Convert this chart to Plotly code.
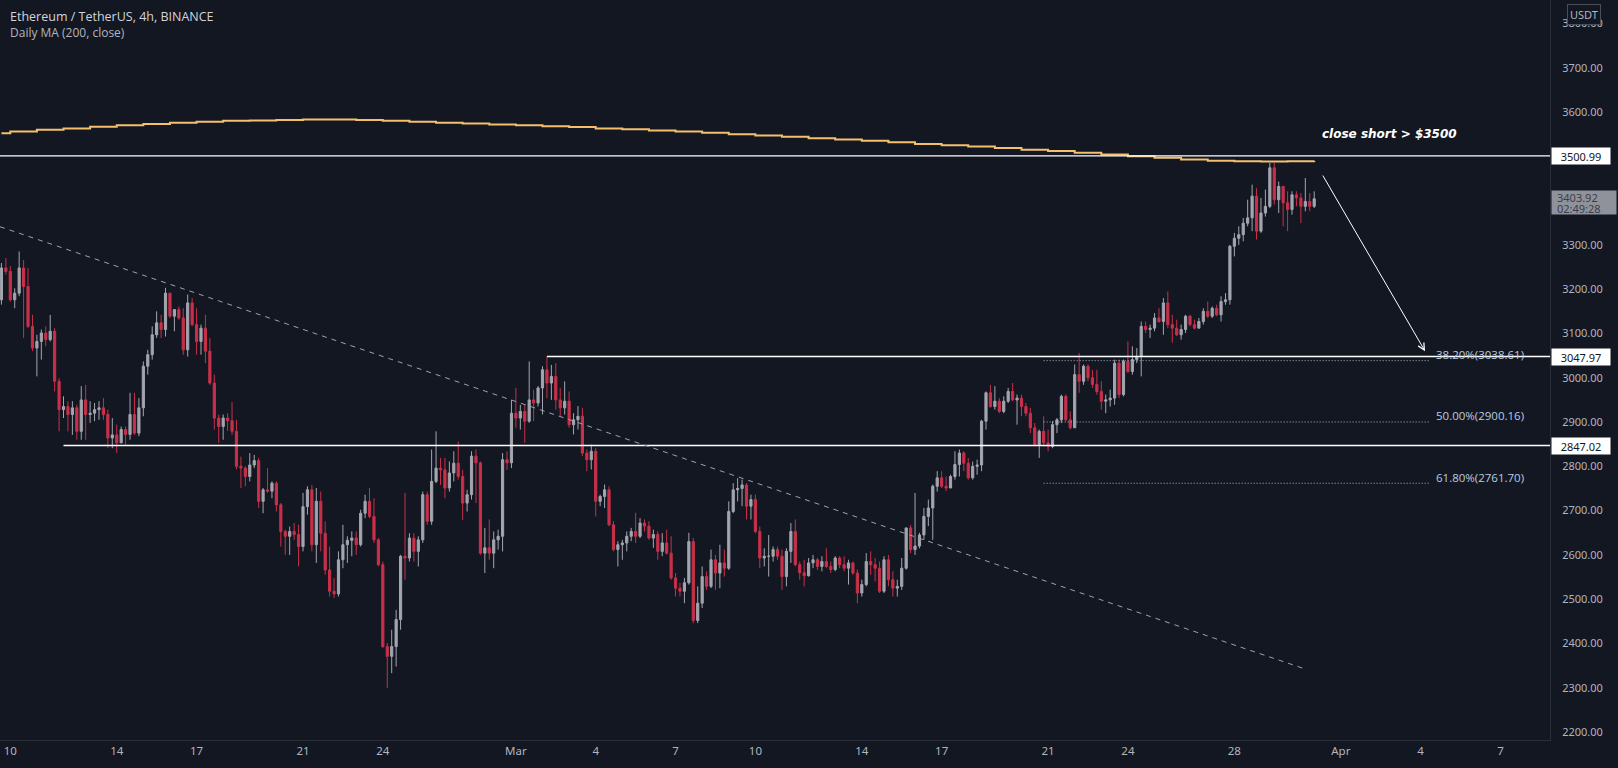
import pandas as pd
import plotly.graph_objects as go

# ---------------- data ----------------
first_open = 3176
closes = [
    3248, 3240,
    3176, 3191, 3248, 3206, 3116, 3067,
    3082, 3101, 3086, 3105, 2992, 2928,
    2935, 2917, 2932, 2879, 2950, 2917,
    2920, 2928, 2932, 2917, 2864, 2871,
    2853, 2883, 2872, 2917, 2875, 2932,
    3026, 3052, 3097, 3124, 3109, 3191,
    3139, 3154, 3135, 3063, 3169, 3120,
    3082, 3112, 3060, 2988, 2909, 2890,
    2909, 2903, 2879, 2800, 2796, 2777,
    2803, 2813, 2721, 2747, 2744, 2762,
    2713, 2653, 2642, 2653, 2646, 2619,
    2709, 2747, 2623, 2721, 2649, 2566,
    2518, 2512, 2589, 2623, 2633, 2638,
    2623, 2694, 2721, 2687, 2634, 2578,
    2393, 2371, 2393, 2454, 2597, 2593,
    2638, 2608, 2634, 2736, 2676, 2766,
    2796, 2792, 2751, 2785, 2807, 2777,
    2717, 2736, 2823, 2808, 2604, 2616,
    2604, 2634, 2642, 2815, 2808, 2920,
    2909, 2924, 2902, 2950, 2943, 2977,
    3018, 2988, 3003, 2950, 2932, 2947,
    2894, 2905, 2913, 2830, 2815, 2834,
    2721, 2732, 2747, 2668, 2612, 2623,
    2627, 2642, 2653, 2642, 2672, 2665,
    2638, 2646, 2608, 2627, 2604, 2548,
    2525, 2518, 2537, 2630, 2452, 2491,
    2551, 2529, 2589, 2559, 2582, 2570,
    2698, 2747, 2750, 2758, 2710, 2725,
    2653, 2593, 2597, 2597, 2612, 2597,
    2551, 2608, 2653, 2578, 2560, 2553,
    2582, 2589, 2574, 2585, 2574, 2567,
    2593, 2578, 2570, 2582, 2559, 2514,
    2533, 2585, 2578, 2570, 2518, 2589,
    2544, 2525, 2529, 2570, 2661, 2612,
    2620, 2645, 2687, 2706, 2755, 2774,
    2755, 2751, 2777, 2804, 2830, 2807,
    2774, 2800, 2803, 2902, 2966, 2935,
    2947, 2924, 2947, 2969, 2950, 2954,
    2935, 2920, 2887, 2849, 2879, 2853,
    2845, 2894, 2905, 2958, 2905, 2887,
    3007, 2992, 3026, 3000, 2985, 2969,
    2947, 2950, 2954, 3033, 2962, 3037,
    3014, 3041, 3048, 3116, 3109, 3112,
    3135, 3127, 3169, 3120, 3112, 3097,
    3109, 3139, 3120, 3112, 3127, 3150,
    3139, 3157, 3142, 3172, 3176, 3297,
    3315, 3323, 3349, 3361, 3410, 3331,
    3372, 3387, 3474, 3402, 3432, 3395,
    3380, 3413, 3406, 3387, 3398, 3387,
    3403.92,
]
highs = [
    3259, 3270,
    3252, 3202, 3285, 3266, 3248, 3142,
    3097, 3109, 3116, 3142, 3112, 2999,
    2958, 2947, 2947, 2939, 2981, 2984,
    2947, 2943, 2947, 2954, 2928, 2909,
    2894, 2890, 2890, 2966, 2966, 2954,
    3037, 3063, 3116, 3150, 3142, 3203,
    3188, 3154, 3161, 3157, 3188, 3180,
    3157, 3120, 3142, 3090, 3007, 2917,
    2917, 2920, 2945, 2905, 2822, 2800,
    2830, 2826, 2819, 2751, 2796, 2766,
    2766, 2717, 2657, 2664, 2672, 2668,
    2740, 2755, 2758, 2751, 2743, 2676,
    2619, 2548, 2608, 2668, 2642, 2653,
    2653, 2702, 2736, 2751, 2728, 2638,
    2585, 2401, 2431, 2476, 2600, 2740,
    2649, 2649, 2642, 2743, 2743, 2838,
    2879, 2819, 2819, 2811, 2834, 2856,
    2792, 2747, 2834, 2838, 2811, 2661,
    2680, 2653, 2657, 2830, 2834, 2950,
    2977, 2939, 2939, 3037, 2973, 2981,
    3026, 3048, 3029, 3033, 2977, 2992,
    2969, 2920, 2936, 2932, 2838, 2849,
    2841, 2736, 2759, 2755, 2676, 2631,
    2634, 2653, 2661, 2695, 2683, 2680,
    2676, 2657, 2653, 2649, 2657, 2642,
    2559, 2537, 2548, 2650, 2638, 2529,
    2574, 2563, 2612, 2600, 2623, 2612,
    2721, 2762, 2773, 2770, 2762, 2736,
    2736, 2664, 2615, 2645, 2619, 2619,
    2612, 2615, 2672, 2680, 2585, 2589,
    2593, 2600, 2593, 2597, 2615, 2585,
    2597, 2597, 2597, 2589, 2585, 2567,
    2544, 2604, 2608, 2593, 2585, 2597,
    2600, 2563, 2544, 2593, 2661, 2668,
    2740, 2650, 2706, 2725, 2759, 2789,
    2789, 2777, 2781, 2834, 2838, 2834,
    2819, 2811, 2815, 2905, 2969, 2984,
    2981, 2954, 2958, 2977, 2988, 2962,
    2962, 2943, 2932, 2898, 2883, 2913,
    2883, 2902, 2909, 2962, 2962, 2924,
    3030, 3056, 3030, 3030, 3018, 3018,
    2992, 2962, 2973, 3041, 3041, 3041,
    3082, 3071, 3067, 3127, 3127, 3120,
    3146, 3157, 3180, 3195, 3142, 3131,
    3120, 3142, 3142, 3131, 3135, 3157,
    3172, 3161, 3165, 3184, 3191, 3300,
    3327, 3342, 3361, 3402, 3436, 3428,
    3406, 3425, 3485, 3485, 3443, 3432,
    3421, 3421, 3421, 3417, 3451, 3417,
    3421,
]
lows = [
    3165, 3233,
    3172, 3157, 3184, 3090, 3112, 3060,
    3003, 3041, 3071, 3082, 2969, 2879,
    2909, 2879, 2871, 2860, 2860, 2860,
    2898, 2902, 2905, 2905, 2841, 2841,
    2830, 2864, 2849, 2860, 2871, 2868,
    2913, 3007, 3041, 3090, 3090, 3093,
    3135, 3105, 3131, 3052, 3048, 3116,
    3052, 3052, 3033, 2984, 2883, 2853,
    2860, 2880, 2871, 2793, 2751, 2755,
    2766, 2796, 2706, 2694, 2740, 2728,
    2698, 2619, 2600, 2600, 2634, 2574,
    2608, 2691, 2608, 2582, 2608, 2555,
    2506, 2503, 2506, 2570, 2582, 2597,
    2600, 2619, 2683, 2683, 2627, 2574,
    2390, 2299, 2333, 2348, 2431, 2544,
    2585, 2585, 2574, 2627, 2668, 2668,
    2762, 2758, 2728, 2743, 2766, 2770,
    2679, 2698, 2725, 2717, 2600, 2559,
    2589, 2570, 2612, 2608, 2792, 2796,
    2887, 2883, 2853, 2898, 2902, 2935,
    2917, 2954, 2950, 2928, 2913, 2917,
    2887, 2872, 2883, 2823, 2789, 2793,
    2687, 2710, 2706, 2665, 2608, 2574,
    2589, 2608, 2631, 2627, 2638, 2653,
    2634, 2616, 2589, 2597, 2601, 2544,
    2506, 2506, 2491, 2533, 2446, 2446,
    2480, 2521, 2525, 2521, 2525, 2551,
    2566, 2694, 2721, 2710, 2680, 2680,
    2649, 2570, 2574, 2551, 2585, 2589,
    2521, 2529, 2582, 2574, 2544, 2529,
    2551, 2570, 2566, 2563, 2570, 2559,
    2563, 2570, 2563, 2533, 2555, 2491,
    2506, 2529, 2555, 2540, 2514, 2514,
    2529, 2506, 2506, 2521, 2567, 2604,
    2600, 2615, 2634, 2665, 2634, 2743,
    2751, 2744, 2751, 2770, 2777, 2789,
    2770, 2770, 2781, 2789, 2883, 2932,
    2928, 2920, 2920, 2943, 2947, 2894,
    2913, 2913, 2875, 2845, 2819, 2845,
    2834, 2841, 2875, 2898, 2902, 2883,
    2887, 2966, 2984, 2992, 2977, 2962,
    2928, 2920, 2935, 2939, 2954, 2958,
    3011, 3007, 3033, 3003, 3101, 3090,
    3105, 3124, 3097, 3112, 3079, 3094,
    3086, 3101, 3116, 3109, 3112, 3120,
    3135, 3135, 3139, 3127, 3165, 3165,
    3274, 3300, 3308, 3342, 3331, 3312,
    3327, 3364, 3383, 3391, 3372, 3342,
    3331, 3368, 3387, 3349, 3376, 3376,
    3383,
]
first_bar = "2022-02-09 16:00"

# Daily MA(200) values, Feb 9 .. Mar 31
ma_first_day = "2022-02-09"
ma_daily = [
    3552, 3556, 3560, 3563, 3567, 3570, 3573, 3576, 3578, 3580,
    3581, 3582, 3583, 3583, 3582, 3580, 3578, 3576, 3574, 3572,
    3570, 3568, 3566, 3563, 3561, 3558, 3556, 3553, 3550, 3547,
    3544, 3541, 3538, 3535, 3532, 3528, 3525, 3522, 3519, 3515,
    3512, 3508, 3504, 3500, 3497, 3493, 3490, 3489, 3488, 3489,
    3490,
]

level_values = [3500.99, 3047.97, 2847.02]
level_starts = ["2022-02-09 00:00", "2022-03-02 04:00", "2022-02-12 00:00"]
level_end = "2022-04-10 00:00"

fib_labels = ["38.20%(3038.61)", "50.00%(2900.16)", "61.80%(2761.70)"]
fib_values = [3038.61, 2900.16, 2761.70]
fib_start, fib_end = "2022-03-20 20:00", "2022-04-04 08:00"

trend_pts = [("2022-02-09 14:43", 3341), ("2022-03-30 17:30", 2341)]
arrow_from = ("2022-03-31 07:00", 3460)
arrow_to = ("2022-04-04 04:00", 3060)

note_text = "close short > $3500"
note_pos = ("2022-04-05 11:00", 3550)

last_price = 3403.92
countdown = "02:49:28"

tick_dates = ["2022-02-10", "2022-02-14", "2022-02-17", "2022-02-21", "2022-02-24",
              "2022-03-01", "2022-03-04", "2022-03-07", "2022-03-10", "2022-03-14",
              "2022-03-17", "2022-03-21", "2022-03-24", "2022-03-28", "2022-04-01",
              "2022-04-04", "2022-04-07"]
tick_text = ["10", "14", "17", "21", "24", "Mar", "4", "7", "10", "14", "17",
             "21", "24", "28", "Apr", "4", "7"]
price_ticks = [2200, 2300, 2400, 2500, 2600, 2700, 2800, 2900, 3000,
               3100, 3200, 3300, 3400, 3500, 3600, 3700, 3800]

# ---------------- build ----------------
BG = "#131722"
TXT = "#b2b5be"
UP = "#a3a6af"
DOWN = "#c9304a"

times = pd.date_range(first_bar, periods=len(closes), freq="4h")
opens = [first_open] + closes[:-1]
highs_f = [max(h, o, c) for h, o, c in zip(highs, opens, closes)]
lows_f = [min(l, o, c) for l, o, c in zip(lows, opens, closes)]

day0 = pd.Timestamp(ma_first_day)
ma_bars = [ma_daily[(t.normalize() - day0).days] for t in times]

fig = go.Figure()
fig.add_trace(go.Scatter(
    x=times, y=ma_bars, mode="lines", line=dict(color="#f4c06c", width=2, shape="hv"),
    hoverinfo="skip", showlegend=False))
fig.add_trace(go.Candlestick(
    x=times, open=opens, high=highs_f, low=lows_f, close=closes,
    increasing=dict(line=dict(color=UP, width=1), fillcolor=UP),
    decreasing=dict(line=dict(color=DOWN, width=1), fillcolor=DOWN),
    whiskerwidth=0, showlegend=False))

shapes = []
for v, s in zip(level_values, level_starts):
    shapes.append(dict(type="line", xref="x", x0=s, x1=level_end, yref="y", y0=v, y1=v,
                       line=dict(color="#ffffff", width=1.3)))
for v in fib_values:
    shapes.append(dict(type="line", xref="x", x0=fib_start, x1=fib_end, yref="y", y0=v, y1=v,
                       line=dict(color="#aab8c8", width=1, dash="1px,2px")))
shapes.append(dict(type="line", xref="x", yref="y",
                   x0=trend_pts[0][0], y0=trend_pts[0][1], x1=trend_pts[1][0], y1=trend_pts[1][1],
                   line=dict(color="#9ea2ab", width=1, dash="5px,5px")))

ann = []
ann.append(dict(xref="paper", yref="paper", x=0.005, y=1 - 16 / 740, xanchor="left", yanchor="middle",
                text="Ethereum / TetherUS, 4h, BINANCE", showarrow=False,
                font=dict(family="Open Sans", size=12.5, color="#d1d4dc")))
ann.append(dict(xref="paper", yref="paper", x=0.005, y=1 - 33 / 740, xanchor="left", yanchor="middle",
                text="Daily MA (200, close)", showarrow=False,
                font=dict(family="Open Sans", size=12, color=TXT)))
ann.append(dict(xref="x", yref="y", x=note_pos[0], y=note_pos[1], xanchor="right", yanchor="middle",
                text="<b><i>" + note_text.replace(">", "&gt;") + "</i></b>", showarrow=False,
                font=dict(family="DejaVu Sans", size=12, color="#ffffff")))
for lab, v in zip(fib_labels, fib_values):
    ann.append(dict(xref="x", yref="y", x=fib_end, y=v, xanchor="left", yanchor="middle",
                    xshift=4, yshift=6, text=lab, showarrow=False,
                    font=dict(family="Open Sans", size=11.5, color="#b9cde0")))
ann.append(dict(xref="x", yref="y", axref="x", ayref="y", x=arrow_to[0], y=arrow_to[1],
                ax=arrow_from[0], ay=arrow_from[1], text="", showarrow=True,
                arrowhead=5, arrowsize=1.3, arrowwidth=1, arrowcolor="#ffffff"))
for v in level_values:
    ann.append(dict(xref="paper", yref="y", x=1, y=v, xanchor="left", yanchor="middle", xshift=1,
                    text=f"{v:.2f}", showarrow=False, bgcolor="#ffffff", width=56, height=14,
                    font=dict(family="Noto Sans", size=11, color="#131722")))
# last price badge: background box + two text lines
ann.append(dict(xref="paper", yref="y", x=1, y=last_price, xanchor="left", yanchor="middle",
                xshift=1, yshift=-3.5, text=" ", showarrow=False,
                bgcolor="#8f929b", width=62, height=21,
                font=dict(family="Noto Sans", size=10, color="#363a45")))
ann.append(dict(xref="paper", yref="y", x=1, y=last_price, xanchor="left", yanchor="middle",
                xshift=5, yshift=1.5, text=f"{last_price:.2f}", showarrow=False,
                font=dict(family="Noto Sans", size=11, color="#3a3e49")))
ann.append(dict(xref="paper", yref="y", x=1, y=last_price, xanchor="left", yanchor="middle",
                xshift=5, yshift=-9.5, text=countdown, showarrow=False,
                font=dict(family="Noto Sans", size=11, color="#3a3e49")))
ann.append(dict(xref="paper", yref="paper", x=1, y=1 - 14.7 / 740, xanchor="left", yanchor="middle",
                xshift=17, text="USDT", showarrow=False, bgcolor=BG, bordercolor="#4a4e59",
                borderwidth=1, borderpad=2,
                font=dict(family="Noto Sans", size=11, color=TXT)))

fig.update_layout(
    width=1618, height=768,
    margin=dict(l=0, r=68, t=0, b=28),
    paper_bgcolor=BG, plot_bgcolor=BG,
    showlegend=False, shapes=shapes, annotations=ann,
    xaxis=dict(range=["2022-02-09 14:43", "2022-04-08 20:41"], rangeslider=dict(visible=False),
               showgrid=False, zeroline=False, showline=True, linecolor="#2a2e39", linewidth=1,
               tickmode="array", tickvals=tick_dates, ticktext=tick_text, ticks="",
               tickfont=dict(family="Noto Sans", size=11.5, color=TXT)),
    yaxis=dict(range=[2182.1, 3852.9], side="right", showgrid=False, zeroline=False,
               showline=True, linecolor="#2a2e39", linewidth=1,
               tickmode="array", tickvals=price_ticks, tickformat=".2f", ticks="",
               ticklabelstandoff=9,
               tickfont=dict(family="Noto Sans", size=11, color=TXT)),
)

fig.write_html("out.html", post_script="document.body.style.margin='0';")
